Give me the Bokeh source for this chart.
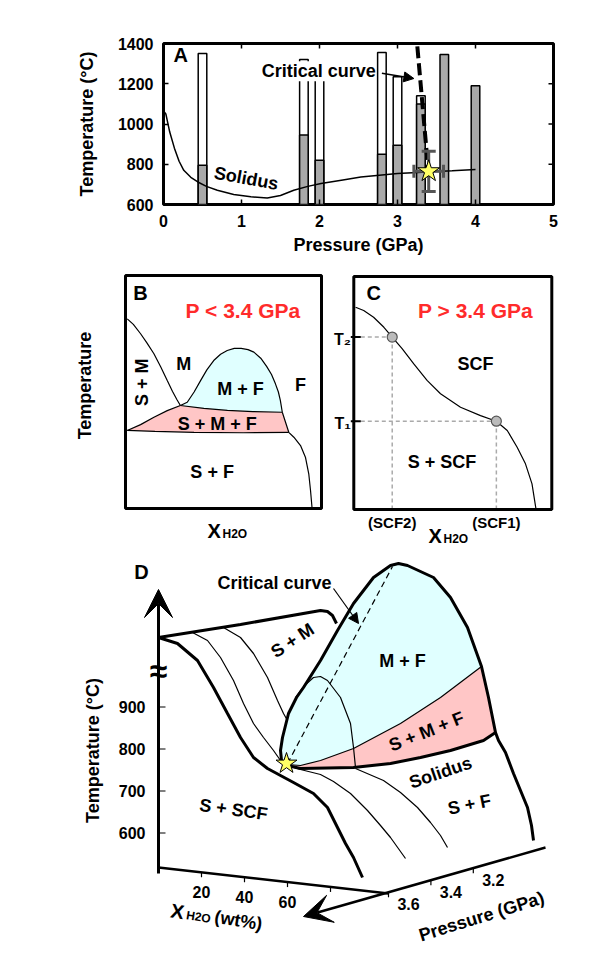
import numpy as np
from bokeh.plotting import figure
from bokeh.models import Range1d, FixedTicker, Label, Arrow, NormalHead, VeeHead
from bokeh.embed import file_html
from bokeh.resources import INLINE

FONT = "Liberation Sans"
RED = "#ff2b2b"
CYAN = "#e0ffff"
PINK = "#ffc6c6"
GRAY = "#a9a9a9"
STARC = "#ffff66"

# ---------------- Panel A data ----------------
bar_p = [0.5, 1.8, 2.0, 2.8, 3.0, 3.3, 3.6, 4.0]
bar_t_upper = [1350, 1320, 1255, 1355, 1235, 1140, None, None]
bar_t_lower = [795, 945, 820, 850, 895, 1100, 1345, 1190]
bar_width = 0.11
solidus_p = [0.0, 0.03, 0.08, 0.14, 0.2, 0.26, 0.35, 0.44, 0.55, 0.69, 0.9, 1.12, 1.33,
             1.5, 1.67, 1.85, 2.02, 2.3, 2.53, 2.8, 3.0, 3.38, 3.7, 4.0]
solidus_t = [1065, 1050, 960, 880, 815, 770, 735, 712, 690, 671, 650, 638, 632,
             645, 671, 690, 704, 722, 737, 747, 754, 762, 768, 774]
star_p, star_t = 3.4, 765
star_dp, star_dt = 0.19, 100
critical_p = [3.235, 3.39]
critical_t = [1470, 790]
a_xticks = [0, 1, 2, 3, 4, 5]
a_yticks = [600, 800, 1000, 1200, 1400]


def label(p, x, y, text, size=18, color="black", angle=0.0, align="center",
          baseline="middle", bg=None):
    lab = Label(x=x, y=y, text=text, text_font=FONT, text_font_size=f"{size}px",
                text_font_style="bold", text_color=color, angle=angle,
                text_align=align, text_baseline=baseline)
    if bg:
        lab.background_fill_color = bg
    p.add_layout(lab)


pA = figure(width=612, height=263, x_range=Range1d(0, 5), y_range=Range1d(600, 1400),
            output_backend="svg", toolbar_location=None,
            min_border_left=163, min_border_right=59, min_border_top=43, min_border_bottom=59,
            x_axis_label="Pressure (GPa)", y_axis_label="Temperature (°C)")
pA.grid.visible = False
pA.outline_line_color = "black"
pA.outline_line_width = 3
for ax in pA.axis:
    ax.axis_line_color = None
    ax.minor_tick_line_color = None
    ax.major_label_text_font = FONT
    ax.major_label_text_font_style = "bold"
    ax.major_label_text_font_size = "16px"
    ax.major_label_text_color = "black"
    ax.axis_label_text_font = FONT
    ax.axis_label_text_font_style = "bold"
    ax.axis_label_text_font_size = "18px"
    ax.axis_label_text_color = "black"
    ax.major_tick_line_width = 1.5
    ax.major_tick_in = 5
    ax.major_tick_out = 0
pA.xaxis.ticker = FixedTicker(ticks=a_xticks)
pA.yaxis.ticker = FixedTicker(ticks=a_yticks)
pA.xaxis.major_label_standoff = 10
pA.yaxis.major_label_standoff = 10
pA.xaxis.axis_label_standoff = 5
pA.yaxis.axis_label_standoff = 18

# mirrored inward ticks on top and right
tx = 5 * 5.0 / 390.0
ty = 5 * 800.0 / 161.0
pA.segment(x0=a_xticks, x1=a_xticks, y0=[1400] * len(a_xticks), y1=[1400 - ty] * len(a_xticks),
           line_color="black", line_width=1.5)
pA.segment(x0=[5] * len(a_yticks), x1=[5 - tx] * len(a_yticks), y0=a_yticks, y1=a_yticks,
           line_color="black", line_width=1.5)

up_x = [x for x, t in zip(bar_p, bar_t_upper) if t is not None]
up_t = [t for t in bar_t_upper if t is not None]
pA.vbar(x=up_x, top=up_t, bottom=600, width=bar_width, fill_color="white",
        line_color="black", line_width=1.5)
pA.vbar(x=bar_p, top=bar_t_lower, bottom=600, width=bar_width, fill_color=GRAY,
        line_color="black", line_width=1.5)
pA.line(solidus_p, solidus_t, line_color="black", line_width=1.5)
pA.line(critical_p, critical_t, line_color="black", line_width=4, line_dash="12 5")

capx = 0.09
capt = 32
pA.segment(x0=[star_p - star_dp], x1=[star_p + star_dp], y0=[star_t], y1=[star_t],
           line_color="#555555", line_width=3)
pA.segment(x0=[star_p], x1=[star_p], y0=[star_t - star_dt], y1=[star_t + star_dt],
           line_color="#555555", line_width=3)
pA.segment(x0=[star_p - star_dp, star_p + star_dp], x1=[star_p - star_dp, star_p + star_dp],
           y0=[star_t - capt] * 2, y1=[star_t + capt] * 2, line_color="#555555", line_width=3)
pA.segment(x0=[star_p - capx] * 2, x1=[star_p + capx] * 2,
           y0=[star_t - star_dt, star_t + star_dt], y1=[star_t - star_dt, star_t + star_dt],
           line_color="#555555", line_width=3)
pA.scatter([star_p], [star_t], marker="star", size=23, fill_color=STARC,
           line_color="black", line_width=1)

label(pA, 0.22, 1342, "A", size=20)
label(pA, 1.99, 1262, "Critical curve", size=18, bg="white")
pA.add_layout(Arrow(end=NormalHead(size=10, fill_color="black", line_color="black"),
                    x_start=2.8, y_start=1252, x_end=3.21, y_end=1226,
                    line_color="black", line_width=1.5))
label(pA, 1.06, 730, "Solidus", size=18, angle=-0.18)

# ---------------- Panel B (schematic T-X, P < 3.4 GPa), unit box ----------------
b_sm_x = [0.009, 0.04, 0.077, 0.11, 0.145, 0.18, 0.213, 0.24, 0.262, 0.28]
b_sm_y = [0.814, 0.79, 0.75, 0.71, 0.664, 0.607, 0.549, 0.502, 0.468, 0.442]
b_dome_x = [0.28, 0.315, 0.35, 0.383, 0.415, 0.45, 0.485, 0.519, 0.555, 0.59, 0.625,
            0.655, 0.69, 0.72, 0.745, 0.765, 0.78, 0.79, 0.80]
b_dome_y = [0.442, 0.456, 0.50, 0.549, 0.595, 0.635, 0.662, 0.678, 0.687, 0.687, 0.682,
            0.671, 0.645, 0.61, 0.575, 0.535, 0.50, 0.464, 0.413]
b_base_x = [0.28, 0.40, 0.52, 0.65, 0.80]
b_base_y = [0.442, 0.43, 0.421, 0.416, 0.413]
b_smf_top_x = [0.009, 0.077, 0.145, 0.213, 0.28]
b_smf_top_y = [0.335, 0.36, 0.392, 0.42, 0.442]
b_smf_bot_x = [0.009, 0.15, 0.35, 0.6, 0.833]
b_smf_bot_y = [0.335, 0.331, 0.327, 0.325, 0.327]
b_right_x = [0.80, 0.833, 0.859, 0.893, 0.918, 0.935, 0.944, 0.952]
b_right_y = [0.413, 0.327, 0.306, 0.27, 0.22, 0.149, 0.077, 0.0]

# ---------------- Panel C (schematic T-X, P > 3.4 GPa), unit box ----------------
c_x = [0.009, 0.05, 0.10, 0.152, 0.194, 0.244, 0.303, 0.37, 0.438, 0.539, 0.64, 0.72,
       0.775, 0.825, 0.867, 0.90, 0.92]
c_y = [0.868, 0.854, 0.825, 0.782, 0.74, 0.69, 0.625, 0.554, 0.497, 0.439, 0.403, 0.379,
       0.339, 0.267, 0.196, 0.11, 0.003]
c_pts_x = [0.194, 0.72]
c_pts_y = [0.74, 0.379]
c_y_ticks = [0.379, 0.74]
c_y_labels = ["T\u2081", "T\u2082"]
c_x_ticks = [0.194, 0.72]
c_x_labels = ["(SCF2)", "(SCF1)"]

# ---------------- Panel D (pseudo-3D schematic) ----------------
d_t_ticks = [900, 800, 700, 600]
d_x_ticks = [20, 40, 60, 80]
d_x_labels = ["20", "40", "60", ""]
d_p_ticks = [3.6, 3.4, 3.2]
d_p_labels = ["3.6", "3.4", "3.2"]

top_edge_x = [158, 240, 320, 327, 332, 336]
top_edge_y = [637, 624, 610, 611, 615, 623]
dome_x = [281, 280, 282, 288, 296, 303, 320, 337, 353, 373, 390, 398, 407, 433, 450, 467,
          481, 488, 495, 498, 505, 513, 520, 527, 531, 533]
dome_y = [760, 750, 737, 713, 697, 687, 660, 630, 603, 577, 565, 563, 565, 577, 597, 627,
          666, 697, 732, 740, 752, 773, 790, 807, 825, 840]
pink_top_x = [287, 300, 320, 353, 400, 440, 481]
pink_top_y = [764, 765, 760, 748, 723, 697, 666]
pink_bot_x = [287, 300, 353, 390, 420, 450, 483, 495]
pink_bot_y = [765, 768, 767, 763, 757, 750, 740, 732]
small_dome_x = [295, 303, 313, 320, 327, 340, 350, 353, 355]
small_dome_y = [697, 686, 677, 676, 680, 697, 723, 747, 767]
crit_x = [287, 392]
crit_y = [763, 566]
left_thick_x = [158, 177, 197, 213, 227, 240, 253, 267, 280, 293, 313, 327, 337, 345, 353, 362]
left_thick_y = [637, 643, 660, 687, 713, 737, 757, 768, 775, 782, 793, 807, 827, 843, 857, 877]
thin1_x = [192, 207, 220, 233, 243, 253, 263, 273, 280]
thin1_y = [632, 640, 657, 680, 703, 723, 737, 750, 760]
thin2_x = [223, 240, 253, 267, 277, 283, 287]
thin2_y = [627, 637, 653, 677, 700, 713, 720]
thinA_x = [290, 300, 320, 333, 350, 367, 380, 390, 405]
thinA_y = [766, 769, 774, 781, 793, 810, 825, 837, 858]
thinB_x = [355, 383, 400, 417, 430, 440, 447]
thinB_y = [768, 780, 792, 807, 822, 835, 847]
front_x = [158, 388]
front_y = [867, 893]

# schematic canvas (panels B, C, D) in screen-pixel units
pS = figure(width=612, height=700, x_range=Range1d(0, 612), y_range=Range1d(963, 263),
            x_axis_location=None, y_axis_location=None, output_backend="svg",
            toolbar_location=None, min_border=0)
pS.grid.visible = False
pS.outline_line_color = None

# box geometry of panels B and C
BL, BW, BB, BH = 125, 196, 508, 233
CL, CW, CB, CH = 353.3, 198, 509, 233


def bx(v):
    return BL + BW * np.asarray(v, dtype=float)


def by(v):
    return BB - BH * np.asarray(v, dtype=float)


def cx(v):
    return CL + CW * np.asarray(v, dtype=float)


def cy(v):
    return CB - CH * np.asarray(v, dtype=float)


# ---- B ----
pS.patch(bx(b_dome_x + b_base_x[::-1]), by(b_dome_y + b_base_y[::-1]),
         fill_color=CYAN, line_color=None)
pS.patch(bx(b_smf_top_x + b_base_x[1:] + [b_right_x[1]] + b_smf_bot_x[::-1]),
         by(b_smf_top_y + b_base_y[1:] + [b_right_y[1]] + b_smf_bot_y[::-1]),
         fill_color=PINK, line_color=None)
for xs, ys in [(b_sm_x, b_sm_y), (b_dome_x, b_dome_y), (b_base_x, b_base_y),
               (b_smf_top_x, b_smf_top_y), (b_smf_bot_x, b_smf_bot_y), (b_right_x, b_right_y)]:
    pS.line(bx(xs), by(ys), line_color="black", line_width=1.2)
pS.quad(left=[BL], right=[BL + BW], top=[BB - BH], bottom=[BB], fill_color=None,
        line_color="black", line_width=3)

label(pS, bx(0.077), by(0.923), "B", size=20)
label(pS, bx(0.60), by(0.85), "P < 3.4 GPa", size=21, color=RED)
label(pS, bx(0.085), by(0.542), "S + M", size=18, angle=np.pi / 2)
label(pS, bx(0.297), by(0.621), "M", size=18)
label(pS, bx(0.587), by(0.514), "M + F", size=18)
label(pS, bx(0.893), by(0.528), "F", size=18)
label(pS, bx(0.468), by(0.364), "S + M + F", size=18)
label(pS, bx(0.442), by(0.156), "S + F", size=18)
label(pS, 84, by(0.528), "Temperature", size=18, angle=np.pi / 2)
label(pS, 207, 530, "X", size=20, align="left")
label(pS, 222, 533.5, "H2O", size=12, align="left")

# ---- C ----
for px, py in zip(c_pts_x, c_pts_y):
    pS.line(cx([0, px]), cy([py, py]), line_color="#aaaaaa", line_width=1.5, line_dash="4 3")
    pS.line(cx([px, px]), cy([0, py]), line_color="#aaaaaa", line_width=1.5, line_dash="4 3")
pS.line(cx(c_x), cy(c_y), line_color="black", line_width=1.2)
pS.scatter(cx(c_pts_x), cy(c_pts_y), size=10, fill_color="#bbbbbb", line_color="#555555",
           line_width=1.2)
pS.quad(left=[CL], right=[CL + CW], top=[CB - CH], bottom=[CB], fill_color=None,
        line_color="black", line_width=3)
cty = cy(c_y_ticks)
pS.segment(x0=[CL - 3] * 2, x1=[CL + 7] * 2, y0=cty, y1=cty, line_color="black", line_width=2)
for yy, lab in zip(cty, c_y_labels):
    label(pS, CL - 3, yy + 2, lab, size=16, align="right")
for xx, lab in zip(cx(c_x_ticks), c_x_labels):
    label(pS, xx, CB + 13, lab, size=15)

label(pS, cx(0.101), cy(0.93), "C", size=20)
label(pS, cx(0.615), cy(0.854), "P > 3.4 GPa", size=21, color=RED)
label(pS, cx(0.615), cy(0.625), "SCF", size=18)
label(pS, cx(0.446), cy(0.203), "S + SCF", size=18)
label(pS, 428, 535, "X", size=20, align="left")
label(pS, 443, 538.5, "H2O", size=12, align="left")


# ---- D ----
def t_to_y(t):
    return 748.5 - (t - 800) * 0.42


def x_to_xy(xw):
    xx = 158 + xw * 2.15
    return xx, 867 + (xx - 158) * 0.113


def p_to_xy(pp):
    xx = 388 + (3.6 - pp) * 212
    return xx, 891.8 - (xx - 388) * 0.285


cyan_dx = [287] + dome_x[:17] + pink_top_x[::-1]
cyan_dy = [763] + dome_y[:17] + pink_top_y[::-1]
pS.patch(cyan_dx, cyan_dy, fill_color=CYAN, line_color=None)
pink_dx = pink_top_x + dome_x[17:19] + pink_bot_x[::-1]
pink_dy = pink_top_y + dome_y[17:19] + pink_bot_y[::-1]
pS.patch(pink_dx, pink_dy, fill_color=PINK, line_color=None)

for xs, ys in [(thin1_x, thin1_y), (thin2_x, thin2_y), (thinA_x, thinA_y),
               (thinB_x, thinB_y), (small_dome_x, small_dome_y), (pink_top_x, pink_top_y)]:
    pS.line(xs, ys, line_color="black", line_width=1.2)
pS.line(crit_x, crit_y, line_color="black", line_width=1.2, line_dash="6 4")
for xs, ys in [(top_edge_x, top_edge_y), (dome_x, dome_y), (pink_bot_x, pink_bot_y),
               (left_thick_x, left_thick_y)]:
    pS.line(xs, ys, line_color="black", line_width=3)
pS.line(front_x, front_y, line_color="black", line_width=2.5)

pS.add_layout(Arrow(end=VeeHead(size=28, fill_color="black", line_color="black"),
                    x_start=158, y_start=873, x_end=158, y_end=589,
                    line_color="black", line_width=3))
ty_list = [t_to_y(t) for t in d_t_ticks]
pS.segment(x0=[158] * 4, x1=[165] * 4, y0=ty_list, y1=ty_list, line_color="black",
           line_width=1.2)
for t, yy in zip(d_t_ticks, ty_list):
    label(pS, 145, yy, str(t), size=16, align="right")
label(pS, 158, 670, "\u2248", size=32)

for xw, lab in zip(d_x_ticks, d_x_labels):
    xx, yy = x_to_xy(xw)
    pS.segment(x0=[xx], x1=[xx], y0=[yy], y1=[yy + 5], line_color="black", line_width=1.2)
    if lab:
        label(pS, xx, yy + 20, lab, size=16)

pS.add_layout(Arrow(end=VeeHead(size=28, fill_color="black", line_color="black"),
                    x_start=545, y_start=847, x_end=303, y_end=916,
                    line_color="black", line_width=2.5))
for pp, lab in zip(d_p_ticks, d_p_labels):
    xx, yy = p_to_xy(pp)
    pS.segment(x0=[xx], x1=[xx], y0=[yy], y1=[yy + 5], line_color="black", line_width=1.2)
    label(pS, xx + 20, yy + 12, lab, size=16)

pS.scatter([286], [763], marker="star", size=22, fill_color=STARC, line_color="black",
           line_width=1)

label(pS, 141, 571, "D", size=20)
label(pS, 274, 582, "Critical curve", size=18)
pS.add_layout(Arrow(end=NormalHead(size=10, fill_color="black", line_color="black"),
                    x_start=333, y_start=588, x_end=358, y_end=623,
                    line_color="black", line_width=1.2))
label(pS, 292, 640, "S + M", size=18, angle=0.58)
label(pS, 402, 660, "M + F", size=18)
label(pS, 426, 731, "S + M + F", size=18, angle=0.38)
label(pS, 440, 772, "Solidus", size=18, angle=0.33)
label(pS, 469, 804, "S + F", size=18, angle=0.2)
label(pS, 233, 809, "S + SCF", size=18, angle=-0.14)
label(pS, 92, 750, "Temperature (\u00b0C)", size=18, angle=np.pi / 2)
label(pS, 481, 916, "Pressure (GPa)", size=18, angle=0.30)
label(pS, 177, 911, "X", size=20, angle=-0.16)
label(pS, 198, 916.5, "H2O", size=12, angle=-0.16)
label(pS, 238, 920, "(wt%)", size=18, angle=-0.16)

open("out.html", "w").write(file_html([pA, pS], INLINE))
